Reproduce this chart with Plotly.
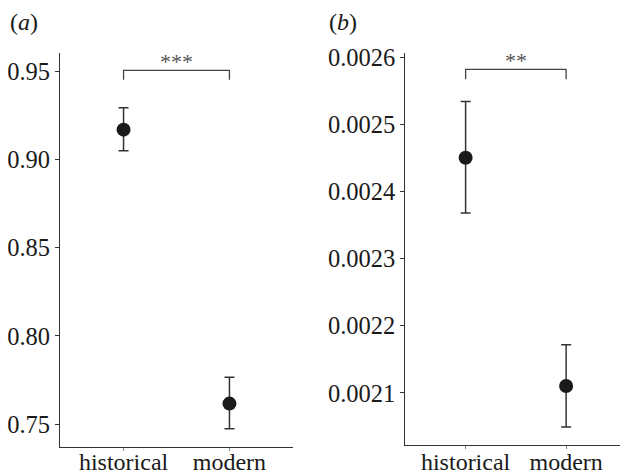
import plotly.graph_objects as go

categories = ["historical", "modern"]

# panel (a)
a_mean = [0.9168, 0.7617]
a_upper = [0.9292, 0.7766]
a_lower = [0.9049, 0.7475]
a_ticks = [0.75, 0.80, 0.85, 0.90, 0.95]
a_tick_labels = ["0.75", "0.80", "0.85", "0.90", "0.95"]
a_bracket = [0.9450, 0.9504]
a_sig = "***"

# panel (b)
b_mean = [0.0024504, 0.0021104]
b_upper = [0.0025343, 0.0021720]
b_lower = [0.0023682, 0.0020493]
b_ticks = [0.0021, 0.0022, 0.0023, 0.0024, 0.0025, 0.0026]
b_tick_labels = ["0.0021", "0.0022", "0.0023", "0.0024", "0.0025", "0.0026"]
b_bracket = [0.0025672, 0.0025821]
b_sig = "**"

SERIF = "Liberation Serif, Times New Roman, serif"
AX = "#333333"
TXT = "#1a1a1a"

fig = go.Figure()

def add_panel(xa, ya, mean, up, lo, bracket, sig):
    fig.add_trace(go.Scatter(
        x=categories, y=mean, mode="markers",
        marker=dict(size=14, color="#1a1a1a"),
        error_y=dict(type="data", symmetric=False,
                     array=[u - m for u, m in zip(up, mean)],
                     arrayminus=[m - l for m, l in zip(mean, lo)],
                     color="#333333", thickness=1.5, width=5),
        xaxis=xa, yaxis=ya, showlegend=False, cliponaxis=False))
    fig.add_trace(go.Scatter(
        x=[categories[0], categories[0], categories[1], categories[1]],
        y=[bracket[0], bracket[1], bracket[1], bracket[0]],
        mode="lines", line=dict(color="#444444", width=1.3),
        xaxis=xa, yaxis=ya, showlegend=False, cliponaxis=False))
    fig.add_annotation(
        x=0.5, y=bracket[1], xref=xa, yref=ya, text=sig, showarrow=False,
        yanchor="bottom", yshift=-6,
        font=dict(family=SERIF, size=22, color="#555555"))

add_panel("x", "y", a_mean, a_upper, a_lower, a_bracket, a_sig)
add_panel("x2", "y2", b_mean, b_upper, b_lower, b_bracket, b_sig)

def yaxis_style():
    return dict(showgrid=False, zeroline=False, showline=True, linecolor=AX, linewidth=1.2,
                ticks="outside", ticklen=4, tickcolor=AX, tickwidth=1, automargin=False,
                tickfont=dict(size=24.5, family=SERIF, color=TXT))

def xaxis_style(standoff):
    return dict(showgrid=False, zeroline=False, showline=True, linecolor=AX, linewidth=1.2,
                ticks="outside", ticklen=3, tickcolor="#888888", tickwidth=1, automargin=False,
                tickfont=dict(size=24, family=SERIF, color=TXT), ticklabelstandoff=standoff)

fig.update_layout(
    width=620, height=475,
    margin=dict(l=0, r=0, t=0, b=0),
    paper_bgcolor="white", plot_bgcolor="white",
    font=dict(family=SERIF, color=TXT),
    xaxis=dict(domain=[60 / 620, 293 / 620], range=[-0.6, 1.6], anchor="y", **xaxis_style(-10)),
    yaxis=dict(domain=[1 - 446.7 / 475, 1 - 53 / 475], range=[0.7373, 0.9602], anchor="x",
               tickvals=a_ticks, ticktext=a_tick_labels, **yaxis_style()),
    xaxis2=dict(domain=[405.3 / 620, 1.0], range=[-0.6, 1.536], anchor="y2", **xaxis_style(-8)),
    yaxis2=dict(domain=[1 - 445 / 475, 1 - 53 / 475], range=[0.0020225, 0.0026064], anchor="x2",
                tickvals=b_ticks, ticktext=b_tick_labels, **yaxis_style()),
)

fig.add_annotation(x=8 / 620, y=1 - 22 / 475, xref="paper", yref="paper",
                   text="(<i>a</i>)", showarrow=False, xanchor="left", yanchor="middle",
                   font=dict(family=SERIF, size=24, color=TXT))
fig.add_annotation(x=327 / 620, y=1 - 22 / 475, xref="paper", yref="paper",
                   text="(<i>b</i>)", showarrow=False, xanchor="left", yanchor="middle",
                   font=dict(family=SERIF, size=24, color=TXT))

fig.write_html("out.html", config={"displayModeBar": False},
               post_script="document.body.style.margin='0';document.body.style.padding='0';")
